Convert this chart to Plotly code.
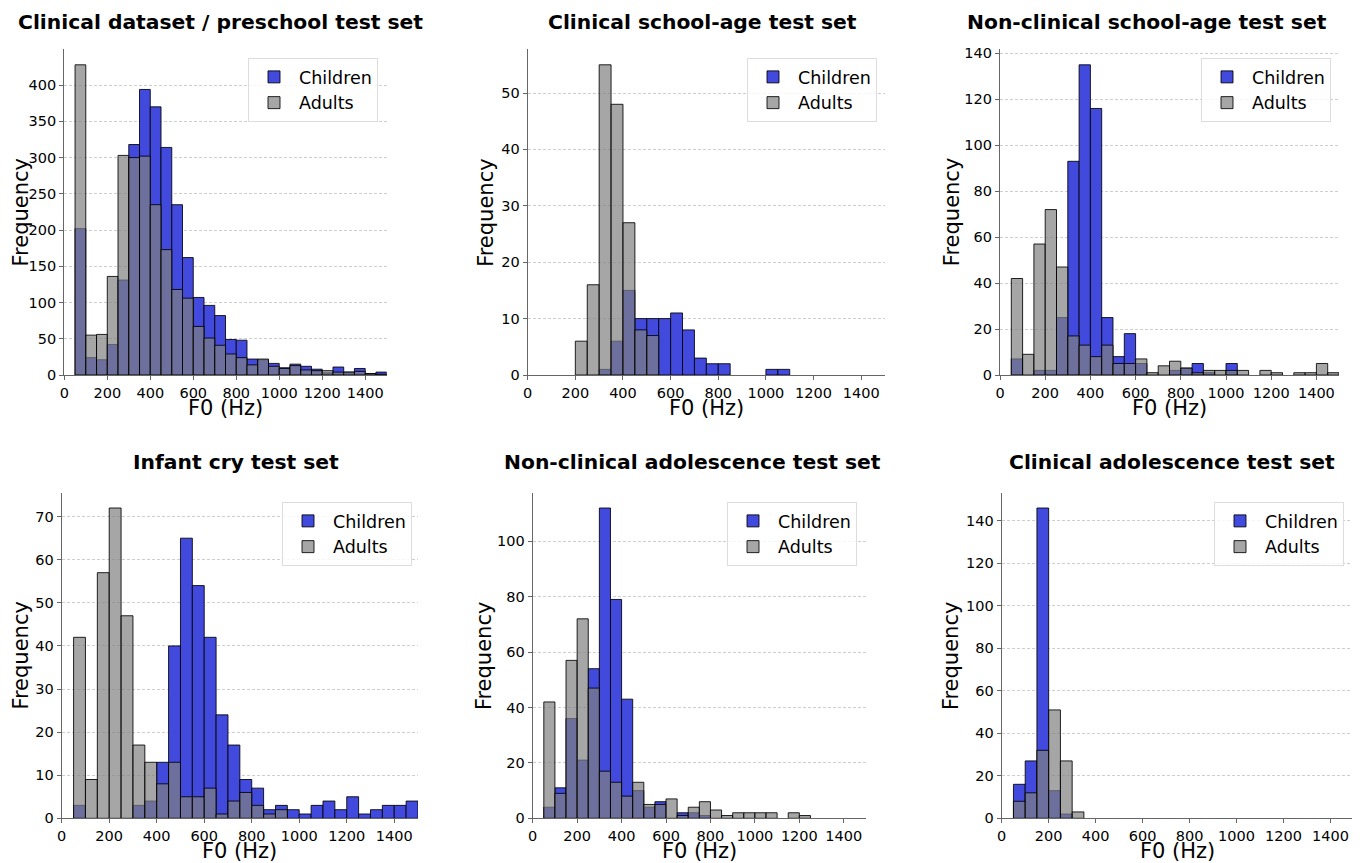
import plotly.graph_objects as go

# Histogram bins (left edges, 50 Hz wide)
bin_left = [50, 100, 150, 200, 250, 300, 350, 400, 450, 500, 550, 600, 650, 700, 750,
            800, 850, 900, 950, 1000, 1050, 1100, 1150, 1200, 1250, 1300, 1350, 1400, 1450]
BIN_W = 50

titles = ["Clinical dataset / preschool test set", "Clinical school-age test set",
          "Non-clinical school-age test set", "Infant cry test set",
          "Non-clinical adolescence test set", "Clinical adolescence test set"]

p1_children = [202, 24, 21, 42, 131, 318, 394, 370, 314, 235, 162, 107, 96, 82, 49,
               48, 22, 21, 16, 10, 15, 12, 8, 3, 11, 4, 9, 2, 4]
p1_adults = [428, 55, 56, 136, 303, 300, 302, 235, 173, 118, 106, 67, 51, 41, 29,
             24, 14, 22, 12, 9, 13, 7, 6, 6, 4, 4, 5, 2, 1]

p2_children = [0, 0, 0, 0, 0, 1, 6, 15, 10, 10, 10, 11, 8, 3, 2,
               2, 0, 0, 0, 1, 1, 0, 0, 0, 0, 0, 0, 0, 0]
p2_adults = [0, 0, 0, 6, 16, 55, 48, 27, 8, 7, 0, 0, 0, 0, 0,
             0, 0, 0, 0, 0, 0, 0, 0, 0, 0, 0, 0, 0, 0]

p3_children = [7, 0, 2, 2, 25, 93, 135, 116, 25, 8, 18, 5, 0, 0, 2,
               3, 5, 1, 0, 5, 0, 0, 0, 0, 0, 0, 0, 0, 0]
p3_adults = [42, 9, 57, 72, 47, 17, 13, 8, 13, 5, 5, 7, 1, 4, 6,
             3, 1, 2, 2, 2, 2, 0, 2, 1, 0, 1, 1, 5, 1]

p4_children = [3, 0, 0, 0, 0, 3, 4, 13, 40, 65, 54, 42, 24, 17, 9,
               7, 2, 3, 2, 1, 3, 4, 2, 5, 1, 2, 3, 3, 4]
p4_adults = [42, 9, 57, 72, 47, 17, 13, 8, 13, 5, 5, 7, 1, 4, 6,
             3, 1, 2, 0, 0, 0, 0, 0, 0, 0, 0, 0, 0, 0]

p5_children = [4, 11, 36, 21, 54, 112, 79, 43, 10, 4, 6, 0, 2, 2, 1,
               0, 0, 0, 0, 0, 0, 0, 0, 0, 0, 0, 0, 0, 0]
p5_adults = [42, 9, 57, 72, 47, 17, 13, 8, 13, 5, 5, 7, 1, 4, 6,
             3, 1, 2, 2, 2, 2, 0, 2, 1, 0, 0, 0, 0, 0]

p6_children = [16, 27, 146, 13, 2, 0, 0, 0, 0, 0, 0, 0, 0, 0, 0,
               0, 0, 0, 0, 0, 0, 0, 0, 0, 0, 0, 0, 0, 0]
p6_adults = [8, 12, 32, 51, 27, 3, 0, 0, 0, 0, 0, 0, 0, 0, 0,
             0, 0, 0, 0, 0, 0, 0, 0, 0, 0, 0, 0, 0, 0]

y_dtick = [50, 10, 20, 10, 20, 20]
x_ticks = [0, 200, 400, 600, 800, 1000, 1200, 1400]

children_all = [p1_children, p2_children, p3_children, p4_children, p5_children, p6_children]
adults_all = [p1_adults, p2_adults, p3_adults, p4_adults, p5_adults, p6_adults]

# The page body has an 8px margin; lay out in screen pixels and shift.
OFF = 8
W, H = 1360 - OFF, 863 - OFF


def fx(s):
    return (s - OFF) / W


def fy(s):
    return 1 - (s - OFF) / H


# axes boxes in screen pixels: (left, right, top, bottom)
boxes = [(64.3, 386.7, 49.3, 375), (527.7, 885, 49.3, 375), (1000, 1339, 49.3, 375),
         (61.7, 418, 492.5, 818.3), (532.7, 866, 492.5, 818.3), (1001.7, 1354, 492.5, 818.3)]
title_cx = [220, 702, 1147, 236, 693, 1172]
title_top = [8, 8, 8, 448, 448, 448]
ylab_off = [43, 42, 48, 40.5, 48, 50]
legend_pos = [(378, 58), (877, 58), (1331, 58), (412, 502), (857, 502), (1344, 502)]

FONT = "DejaVu Sans"
CHILD_COL = "rgb(66,73,221)"
ADULT_COL = "rgba(128,128,128,0.7)"
EDGE = "rgba(0,0,0,0.85)"

centers = [b + BIN_W / 2 for b in bin_left]


def nz(vals):
    # empty bins are not drawn
    return [v if v > 0 else None for v in vals]


fig = go.Figure()
layout = dict(width=W, height=H, margin=dict(l=0, r=0, t=0, b=0, autoexpand=False),
              plot_bgcolor="white", paper_bgcolor="white", barmode="overlay",
              font=dict(family=FONT, color="black"), showlegend=True)
annotations = []

for i in range(6):
    sfx = "" if i == 0 else str(i + 1)
    xa, ya = "x" + sfx, "y" + sfx
    lg = "legend" + sfx
    fig.add_trace(go.Bar(x=centers, y=nz(children_all[i]), width=BIN_W, name="Children",
                         marker=dict(color=CHILD_COL, line=dict(color=EDGE, width=1)),
                         xaxis=xa, yaxis=ya, legend=lg))
    fig.add_trace(go.Bar(x=centers, y=nz(adults_all[i]), width=BIN_W, name="Adults",
                         marker=dict(color=ADULT_COL, line=dict(color=EDGE, width=1)),
                         xaxis=xa, yaxis=ya, legend=lg))
    l, r, t, b = boxes[i]
    ymax = max(max(children_all[i]), max(adults_all[i])) * 1.05
    layout["xaxis" + sfx] = dict(domain=[fx(l), fx(r)], anchor=ya, range=[0, 1500],
                                 tickvals=x_ticks, showgrid=False, zeroline=False,
                                 showline=True, linecolor="#666", linewidth=1.2,
                                 ticks="outside", ticklen=4, tickcolor="#666",
                                 automargin=False,
                                 tickfont=dict(size=14.5, family=FONT))
    layout["yaxis" + sfx] = dict(domain=[fy(b), fy(t)], anchor=xa, range=[0, ymax],
                                 dtick=y_dtick[i], tick0=0, showgrid=True, gridcolor="#cfcfcf",
                                 griddash="3px,2px", gridwidth=0.7, zeroline=False,
                                 showline=True, linecolor="#666", linewidth=1.2,
                                 ticks="outside", ticklen=4, tickcolor="#666",
                                 automargin=False,
                                 tickfont=dict(size=14.5, family=FONT))
    lx, ly = legend_pos[i]
    layout[lg] = dict(x=fx(lx), y=fy(ly), xanchor="right", yanchor="top",
                      bgcolor="rgba(255,255,255,0.8)", bordercolor="#dddddd", borderwidth=1,
                      font=dict(size=17.5, family=FONT), itemwidth=40,
                      traceorder="normal")
    annotations.append(dict(text="<b>" + titles[i] + "</b>", x=fx(title_cx[i]),
                            y=fy(title_top[i]), xref="paper", yref="paper",
                            xanchor="center", yanchor="top", showarrow=False,
                            font=dict(size=20.3, family=FONT, color="black")))
    # axis titles
    annotations.append(dict(text="F0 (Hz)", x=fx((l + r) / 2), y=fy(b + 33),
                            xref="paper", yref="paper", xanchor="center", yanchor="middle",
                            showarrow=False, font=dict(size=21, family=FONT, color="black")))
    annotations.append(dict(text="Frequency", x=fx(l - ylab_off[i]), y=fy((t + b) / 2),
                            xref="paper", yref="paper", xanchor="center", yanchor="middle",
                            textangle=-90, showarrow=False,
                            font=dict(size=21, family=FONT, color="black")))

layout["annotations"] = annotations
fig.update_layout(**layout)
fig.write_html("out.html")
